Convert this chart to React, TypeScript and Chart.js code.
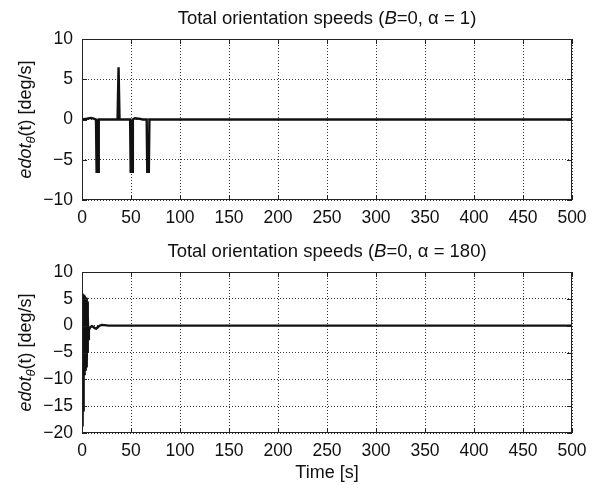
import React, { useEffect, useRef } from "react";
import { Chart, registerables } from "chart.js";

Chart.register(...registerables);

// ---- data ----
const topTime = [0, 5, 9, 12, 14.3, 14.9, 16.5, 17.1, 25, 36.3, 37.3, 38.3, 45, 49.1, 49.7, 51.3, 51.9, 54, 58, 62, 66.0, 66.6, 68.2, 68.8, 80, 100, 200, 300, 400, 500];
const topSpeed = [0, 0.1, 0.2, 0.1, 0, -6.5, -6.5, 0, 0, 0, 6.5, 0, 0, 0, -6.5, -6.5, 0, 0.15, 0.1, 0, 0, -6.5, -6.5, 0, 0, 0, 0, 0, 0, 0];

const bottomTime = [0, 0.3, 0.6, 0.9, 1.2, 1.5, 1.8, 2.1, 2.4, 2.7, 3.0, 3.3, 3.6, 3.9, 4.2, 4.5, 4.8, 5.1, 5.4, 5.7, 6.0, 6.5, 7, 8.5, 10, 11.5, 13, 14.5, 16, 18, 20, 23, 27, 35, 50, 100, 200, 300, 400, 500];
const bottomSpeed = [5.5, -12, 6, -18.8, 5.8, -16, 5.8, -9, 5.6, -8.5, 5.5, -8.2, 5.3, -8, 5.2, -7.8, 5, -7.5, 4.5, -5, 2, -2.5, -0.8, -0.3, -0.1, -0.2, -0.45, -0.55, -0.3, 0, 0.15, 0.1, 0, 0, 0, 0, 0, 0, 0, 0];

const xTicks = [0, 50, 100, 150, 200, 250, 300, 350, 400, 450, 500];
const topYTicks = [-10, -5, 0, 5, 10];
const bottomYTicks = [-20, -15, -10, -5, 0, 5, 10];

type Part = { text: string; italic?: boolean; sub?: boolean };
const topTitle: Part[] = [{ text: "Total orientation speeds (" }, { text: "B", italic: true }, { text: "=0, \u03b1 = 1)" }];
const bottomTitle: Part[] = [{ text: "Total orientation speeds (" }, { text: "B", italic: true }, { text: "=0, \u03b1 = 180)" }];
const yLabel: Part[] = [{ text: "edot", italic: true }, { text: "\u03b8", italic: true, sub: true }, { text: "(t) [deg/s]" }];
const xLabel = "Time [s]";

const FONT = "'Liberation Sans', Arial, Helvetica, sans-serif";
const TEXT = "#111";

function drawParts(ctx: CanvasRenderingContext2D, parts: Part[], cx: number, cy: number, size: number) {
  const fontFor = (p: Part) => `${p.italic ? "italic " : ""}${p.sub ? Math.round(size * 0.72) : size}px ${FONT}`;
  const widths = parts.map((p) => {
    ctx.font = fontFor(p);
    return ctx.measureText(p.text).width;
  });
  const total = widths.reduce((a, b) => a + b, 0);
  let x = cx - total / 2;
  ctx.textAlign = "left";
  ctx.textBaseline = "middle";
  ctx.fillStyle = TEXT;
  parts.forEach((p, i) => {
    ctx.font = fontFor(p);
    ctx.fillText(p.text, x, cy + (p.sub ? size * 0.3 : 0));
    x += widths[i];
  });
}

type PanelCfg = {
  title: Part[];
  titleY: number;
  showXLabel: boolean;
  xLabelY: number;
};

function makeFramePlugin(cfg: PanelCfg) {
  return {
    id: "matlabFrame",
    afterDraw(chart: any) {
      const { ctx, chartArea: a, scales } = chart;
      ctx.save();
      ctx.strokeStyle = "#222";
      ctx.lineWidth = 1;
      ctx.setLineDash([]);
      ctx.strokeRect(a.left + 0.5, a.top + 0.5, a.right - a.left - 1, a.bottom - a.top - 1);
      const tl = 5;
      ctx.beginPath();
      scales.x.ticks.forEach((t: any) => {
        const px = Math.round(scales.x.getPixelForValue(t.value)) + 0.5;
        ctx.moveTo(px, a.top);
        ctx.lineTo(px, a.top + tl);
        ctx.moveTo(px, a.bottom);
        ctx.lineTo(px, a.bottom - tl);
      });
      scales.y.ticks.forEach((t: any) => {
        const py = Math.round(scales.y.getPixelForValue(t.value)) + 0.5;
        ctx.moveTo(a.left, py);
        ctx.lineTo(a.left + tl, py);
        ctx.moveTo(a.right, py);
        ctx.lineTo(a.right - tl, py);
      });
      ctx.stroke();

      const cx = (a.left + a.right) / 2;
      drawParts(ctx, cfg.title, cx, cfg.titleY, 18.5);

      ctx.save();
      ctx.translate(26, (a.top + a.bottom) / 2);
      ctx.rotate(-Math.PI / 2);
      drawParts(ctx, yLabel, 0, 0, 18);
      ctx.restore();

      if (cfg.showXLabel) {
        drawParts(ctx, [{ text: xLabel }], cx, cfg.xLabelY, 18);
      }
      ctx.restore();
    },
  };
}

function buildChart(
  canvas: HTMLCanvasElement,
  times: number[],
  speeds: number[],
  yTicks: number[],
  padTop: number,
  xAxisHeight: number,
  cfg: PanelCfg
) {
  const data = times.map((t, i) => ({ x: t, y: speeds[i] }));
  const grid = {
    color: "#333",
    lineWidth: 1,
    drawTicks: false,
  };
  return new Chart(canvas, {
    type: "line",
    data: {
      datasets: [
        {
          data,
          borderColor: "#111",
          borderWidth: 2.4,
          pointRadius: 0,
          tension: 0,
          fill: false,
        },
      ],
    },
    options: {
      responsive: false,
      animation: false,
      devicePixelRatio: 1,
      layout: { padding: { top: padTop, right: 26, left: 0, bottom: 0 } },
      plugins: { legend: { display: false }, tooltip: { enabled: false } },
      scales: {
        x: {
          type: "linear",
          min: 0,
          max: 500,
          afterBuildTicks: (axis: any) => {
            axis.ticks = xTicks.map((v) => ({ value: v }));
          },
          afterFit: (axis: any) => {
            axis.height = xAxisHeight;
          },
          grid: { ...grid } as any,
          border: { display: false, dash: [1, 2] },
          ticks: {
            padding: 8,
            color: TEXT,
            font: { family: FONT, size: 17.5 },
            maxRotation: 0,
            autoSkip: false,
            callback: (v: any) => String(v),
          },
        },
        y: {
          type: "linear",
          min: yTicks[0],
          max: yTicks[yTicks.length - 1],
          afterBuildTicks: (axis: any) => {
            axis.ticks = yTicks.map((v) => ({ value: v }));
          },
          afterFit: (axis: any) => {
            axis.width = 82;
          },
          grid: { ...grid } as any,
          border: { display: false, dash: [1, 2] },
          ticks: {
            padding: 9,
            color: TEXT,
            font: { family: FONT, size: 17.5 },
            autoSkip: false,
            callback: (v: any) => String(v).replace("-", "\u2212"),
          },
        },
      },
    } as any,
    plugins: [makeFramePlugin(cfg)],
  });
}

export default function App() {
  const topRef = useRef<HTMLCanvasElement>(null);
  const bottomRef = useRef<HTMLCanvasElement>(null);

  useEffect(() => {
    Chart.defaults.font.family = FONT;
    const c1 = buildChart(topRef.current!, topTime, topSpeed, topYTicks, 39, 40, {
      title: topTitle,
      titleY: 19,
      showXLabel: false,
      xLabelY: 0,
    });
    const c2 = buildChart(bottomRef.current!, bottomTime, bottomSpeed, bottomYTicks, 32, 52, {
      title: bottomTitle,
      titleY: 12,
      showXLabel: true,
      xLabelY: 233,
    });
    return () => {
      c1.destroy();
      c2.destroy();
    };
  }, []);

  return (
    <div style={{ position: "fixed", left: 0, top: 0, width: 598, height: 485, background: "#fff" }}>
      <canvas ref={topRef} width={598} height={240} style={{ position: "absolute", left: 0, top: 0 }} />
      <canvas ref={bottomRef} width={598} height={245} style={{ position: "absolute", left: 0, top: 240 }} />
    </div>
  );
}
